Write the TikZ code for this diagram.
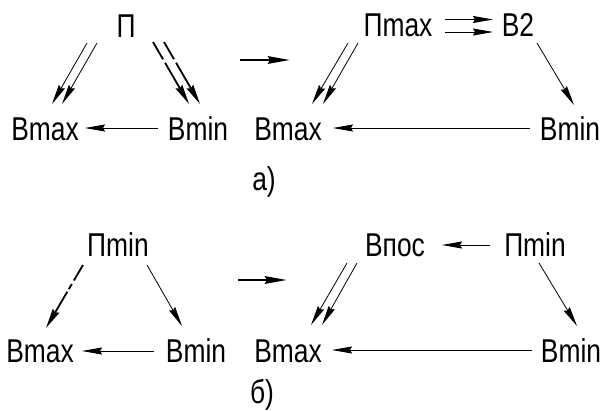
\documentclass[tikz,border=0pt]{standalone}
\usepackage{fontspec}
\setmainfont[FakeStretch=0.8]{Liberation Sans}
\usetikzlibrary{arrows.meta,calc}
\begin{document}
\begin{tikzpicture}[x=1pt,y=-1pt,
  lbl/.style={anchor=base,inner sep=0pt,font=\fontsize{33}{35}\selectfont},
  thin arr/.style={line width=0.8pt,-{Stealth[length=20pt,width=7pt,inset=2pt]}},
  dash arr/.style={line width=1.8pt,dash pattern=on 20pt off 4pt on 40pt off 0pt,-{Stealth[length=20pt,width=7.5pt,inset=2pt]}},
  dash arrb/.style={line width=1.8pt,dash pattern=on 18pt off 4pt on 6pt off 3pt on 60pt off 0pt,-{Stealth[length=20pt,width=7.5pt,inset=2pt]}},
  big arr/.style={line width=2.6pt,-{Stealth[length=22pt,width=7.5pt,inset=2pt]}}]
\useasboundingbox (0,0) rectangle (604,410);
% ---- a) ----
\node[lbl] (P)   at (126,37) {П};
\node[lbl] (BxL) at (45,140) {Вmax};
\node[lbl] (BnL) at (198,140) {Вmin};
\node[lbl] (Px)  at (398,36) {Пmax};
\node[lbl] (B2)  at (518,36) {В2};
\node[lbl] (BxR) at (288,140) {Вmax};
\node[lbl] (BnR) at (570,140) {Вmin};
\node[lbl] (la)  at (264,190) {а)};
\coordinate (t1) at (240,60);
\coordinate (t2) at (290,60);
\draw[thin arr] ($(P.base)+(-39,6)$) -- ($(BxL.base)+(7,-36)$);
\draw[thin arr] ($(P.base)+(-29,6)$) -- ($(BxL.base)+(17,-36)$);
\draw[dash arr] ($(P.base)+(27,5)$) -- ($(BnL.base)+(-9,-36)$);
\draw[dash arr] ($(P.base)+(38,5)$) -- ($(BnL.base)+(2,-36)$);
\draw[thin arr] ($(BnL.base)+(-40,-12)$) -- ($(BxL.base)+(40,-12)$);
\draw[big arr] (t1) -- (t2);
\draw[thin arr] ($(Px.base)+(47,-16.5)$) -- ($(B2.base)+(-25,-16.5)$);
\draw[thin arr] ($(Px.base)+(47,-4)$) -- ($(B2.base)+(-25,-4)$);
\draw[thin arr] ($(Px.base)+(-50,7)$) -- ($(BxR.base)+(24,-36)$);
\draw[thin arr] ($(Px.base)+(-40,7)$) -- ($(BxR.base)+(35,-36)$);
\draw[thin arr] ($(B2.base)+(19,7)$) -- ($(BnR.base)+(4,-35)$);
\draw[thin arr] ($(BnR.base)+(-40,-12)$) -- ($(BxR.base)+(45,-12)$);
% ---- b) ----
\node[lbl] (Pm)  at (118,256) {Пmin};
\node[lbl] (CxL) at (40,362) {Вmax};
\node[lbl] (CnL) at (196,362) {Вmin};
\node[lbl] (Bp)  at (395,256) {Впос};
\node[lbl] (PmR) at (535,256) {Пmin};
\node[lbl] (CxR) at (288,362) {Вmax};
\node[lbl] (CnR) at (571,362) {Вmin};
\node[lbl] (lb)  at (262,403) {б)};
\coordinate (t3) at (238,280);
\coordinate (t4) at (287,280);
\draw[dash arrb] ($(Pm.base)+(-35,9)$) -- ($(CxL.base)+(6,-34)$);
\draw[thin arr] ($(Pm.base)+(29,9)$) -- ($(CnL.base)+(-14,-36)$);
\draw[thin arr] ($(CnL.base)+(-42,-11)$) -- ($(CxL.base)+(42,-11)$);
\draw[big arr] (t3) -- (t4);
\draw[thin arr] ($(PmR.base)+(-45,-11)$) -- ($(Bp.base)+(47,-11)$);
\draw[thin arr] ($(Bp.base)+(-48,7)$) -- ($(CxR.base)+(23,-37)$);
\draw[thin arr] ($(Bp.base)+(-38,7)$) -- ($(CxR.base)+(34,-37)$);
\draw[thin arr] ($(PmR.base)+(4,7)$) -- ($(CnR.base)+(6,-36)$);
\draw[thin arr] ($(CnR.base)+(-39,-12)$) -- ($(CxR.base)+(44,-12)$);
\end{tikzpicture}
\end{document}
